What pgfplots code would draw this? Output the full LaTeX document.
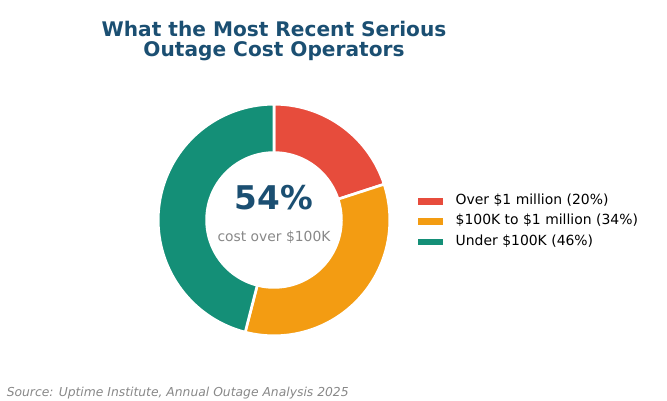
\documentclass[border=0pt]{standalone}
\usepackage{fontspec}
\setmainfont{DejaVu Sans}
\usepackage{pgfplots}
\pgfplotsset{compat=1.18}
\definecolor{cRed}{HTML}{E74C3C}
\definecolor{cOrange}{HTML}{F39C12}
\definecolor{cGreen}{HTML}{148F77}
\definecolor{cTitle}{HTML}{1B4F72}
\definecolor{cGray}{HTML}{888888}
% shares (percent)
\def\vA{20}\def\vB{34}\def\vC{46}
\pgfmathsetmacro\aA{90}
\pgfmathsetmacro\aB{90-3.6*\vA}
\pgfmathsetmacro\aC{\aB-3.6*\vB}
\pgfmathsetmacro\aD{\aC-3.6*\vC}
\def\cx{274}\def\cy{180}\def\R{115.8}\def\r{67.4}
\begin{document}
\begin{tikzpicture}
\begin{axis}[
  scale only axis, width=500.25pt, height=300pt,
  xmin=0, xmax=667, ymin=0, ymax=400,
  hide axis, clip=false,
  legend image code/.code={\fill[#1] (0pt,-2.5pt) rectangle (18.75pt,2.5pt);},
  legend style={at={(axis cs:418.3,208.8)}, anchor=north west, draw=none, fill=none,
    inner sep=0pt, outer sep=0pt, row sep=0pt, column sep=9.3pt,
    font=\fontsize{10.45}{12.5}\selectfont,
    nodes={inner sep=0pt, text height=10pt, text depth=5.2pt}},
  legend cell align=left,
]
\addplot[forget plot, fill=cRed, draw=white, line width=2pt, domain=\aB:\aA, samples=60, variable=\t]
  ({\cx+\R*cos(\t)},{\cy+\R*sin(\t)}) -- (axis cs:\cx,\cy) -- cycle;
\addplot[forget plot, fill=cOrange, draw=white, line width=2pt, domain=\aC:\aB, samples=80, variable=\t]
  ({\cx+\R*cos(\t)},{\cy+\R*sin(\t)}) -- (axis cs:\cx,\cy) -- cycle;
\addplot[forget plot, fill=cGreen, draw=white, line width=2pt, domain=\aD:\aC, samples=100, variable=\t]
  ({\cx+\R*cos(\t)},{\cy+\R*sin(\t)}) -- (axis cs:\cx,\cy) -- cycle;
\addplot[forget plot, fill=white, draw=white, line width=2pt, domain=0:360, samples=150, variable=\t]
  ({\cx+\r*cos(\t)},{\cy+\r*sin(\t)}) -- cycle;
\addlegendimage{fill=cRed, draw=none}
\addlegendentry{Over \$1 million (20\%)}
\addlegendimage{fill=cOrange, draw=none}
\addlegendentry{\$100K to \$1 million (34\%)}
\addlegendimage{fill=cGreen, draw=none}
\addlegendentry{Under \$100K (46\%)}
\node[anchor=base, inner sep=0pt, text=cTitle, font=\fontsize{15.1}{17}\bfseries\selectfont] at (axis cs:274,363.8) {What the Most Recent Serious};
\node[anchor=base, inner sep=0pt, text=cTitle, font=\fontsize{15.1}{17}\bfseries\selectfont] at (axis cs:274,343.1) {Outage Cost Operators};
\node[anchor=base, inner sep=0pt, text=cTitle, font=\fontsize{24.5}{28}\bfseries\selectfont] at (axis cs:274,190) {54\%};
\node[anchor=base, inner sep=0pt, text=cGray, font=\fontsize{10.4}{12.5}\selectfont] at (axis cs:274,158.5) {cost over \$100K};
\node[anchor=base west, inner sep=0pt, text=cGray, font=\fontsize{9.25}{11}\itshape\selectfont] at (axis cs:6.5,4) {Source: Uptime Institute, Annual Outage Analysis 2025};
\path (rel axis cs:0,0) rectangle (rel axis cs:1,1);
\end{axis}
\end{tikzpicture}
\end{document}
